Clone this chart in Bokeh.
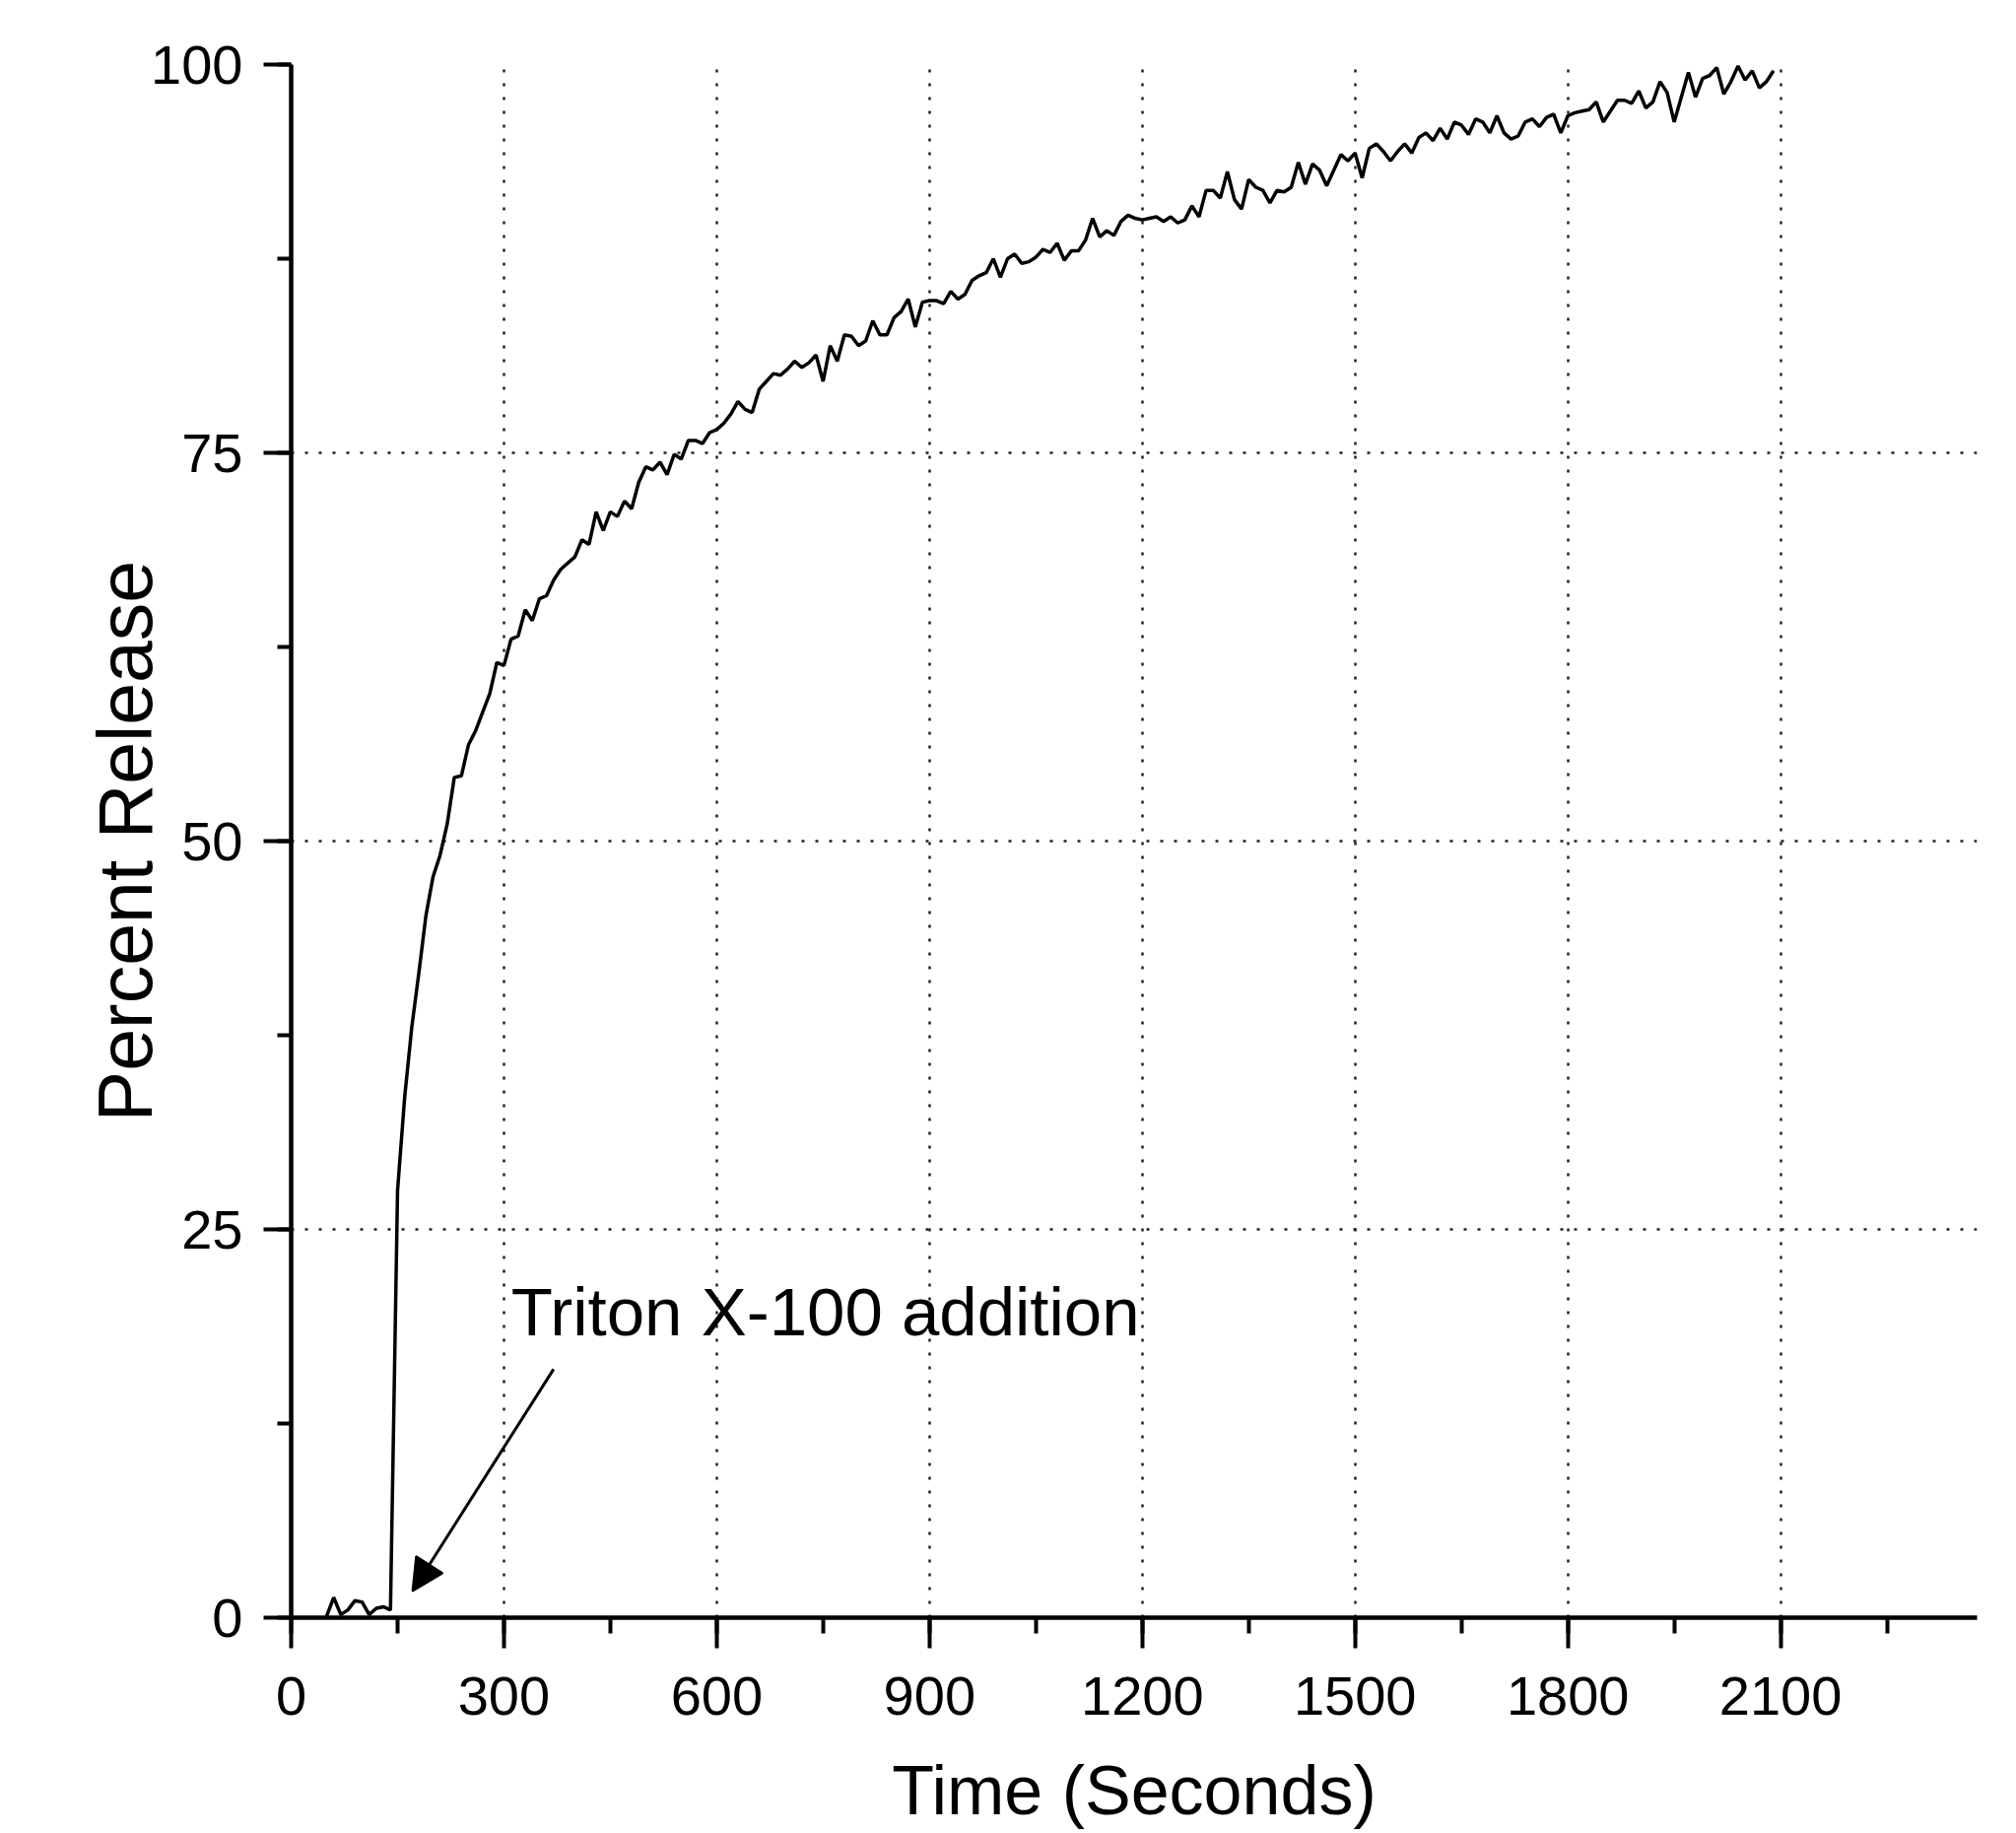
from bokeh.plotting import figure
from bokeh.models import (SingleIntervalTicker, FixedTicker, Arrow, NormalHead,
                          Label, Range1d)
from bokeh.embed import file_html
from bokeh.resources import INLINE

# ---- data ----
time_s = [
    50, 60, 70, 80, 90, 100, 110, 120, 130, 140,
    150, 160, 170, 180, 190, 200, 210, 220, 230, 240,
    250, 260, 270, 280, 290, 300, 310, 320, 330, 340,
    350, 360, 370, 380, 390, 400, 410, 420, 430, 440,
    450, 460, 470, 480, 490, 500, 510, 520, 530, 540,
    550, 560, 570, 580, 590, 600, 610, 620, 630, 640,
    650, 660, 670, 680, 690, 700, 710, 720, 730, 740,
    750, 760, 770, 780, 790, 800, 810, 820, 830, 840,
    850, 860, 870, 880, 890, 900, 910, 920, 930, 940,
    950, 960, 970, 980, 990, 1000, 1010, 1020, 1030, 1040,
    1050, 1060, 1070, 1080, 1090, 1100, 1110, 1120, 1130, 1140,
    1150, 1160, 1170, 1180, 1190, 1200, 1210, 1220, 1230, 1240,
    1250, 1260, 1270, 1280, 1290, 1300, 1310, 1320, 1330, 1340,
    1350, 1360, 1370, 1380, 1390, 1400, 1410, 1420, 1430, 1440,
    1450, 1460, 1470, 1480, 1490, 1500, 1510, 1520, 1530, 1540,
    1550, 1560, 1570, 1580, 1590, 1600, 1610, 1620, 1630, 1640,
    1650, 1660, 1670, 1680, 1690, 1700, 1710, 1720, 1730, 1740,
    1750, 1760, 1770, 1780, 1790, 1800, 1810, 1820, 1830, 1840,
    1850, 1860, 1870, 1880, 1890, 1900, 1910, 1920, 1930, 1940,
    1950, 1960, 1970, 1980, 1990, 2000, 2010, 2020, 2030, 2040,
    2050, 2060, 2070, 2080, 2090,
]
percent_release = [
    0.1, 1.3, 0.2, 0.5, 1.1, 1.0, 0.2, 0.6, 0.7, 0.5,
    27.5, 33.5, 38.0, 41.5, 45.2, 47.7, 49.1, 51.1, 54.1, 54.2,
    56.2, 57.1, 58.3, 59.5, 61.5, 61.3, 63.0, 63.2, 64.9, 64.2,
    65.6, 65.8, 66.8, 67.5, 67.9, 68.3, 69.4, 69.1, 71.2, 70.0,
    71.2, 70.9, 71.9, 71.4, 73.1, 74.1, 73.9, 74.4, 73.6, 74.9,
    74.6, 75.8, 75.8, 75.6, 76.3, 76.5, 76.9, 77.5, 78.3, 77.8,
    77.6, 79.1, 79.6, 80.1, 80.0, 80.4, 80.9, 80.5, 80.8, 81.3,
    79.6, 81.9, 80.9, 82.6, 82.5, 81.9, 82.2, 83.5, 82.6, 82.6,
    83.7, 84.1, 84.9, 83.1, 84.7, 84.8, 84.8, 84.6, 85.4, 84.9,
    85.2, 86.1, 86.4, 86.6, 87.5, 86.3, 87.5, 87.8, 87.2, 87.3,
    87.6, 88.1, 87.9, 88.5, 87.4, 88.0, 88.0, 88.7, 90.1, 88.9,
    89.3, 89.0, 89.9, 90.3, 90.1, 90.0, 90.1, 90.2, 89.9, 90.2,
    89.8, 90.0, 90.9, 90.2, 91.9, 91.9, 91.4, 93.1, 91.3, 90.7,
    92.6, 92.1, 91.9, 91.1, 91.9, 91.8, 92.1, 93.7, 92.3, 93.6,
    93.2, 92.2, 93.2, 94.2, 93.8, 94.3, 92.7, 94.6, 94.9, 94.4,
    93.8, 94.4, 94.9, 94.3, 95.3, 95.6, 95.1, 95.9, 95.2, 96.3,
    96.1, 95.5, 96.5, 96.3, 95.6, 96.7, 95.6, 95.2, 95.4, 96.3,
    96.5, 96.0, 96.6, 96.8, 95.6, 96.7, 96.9, 97.0, 97.1, 97.6,
    96.3, 97.0, 97.7, 97.7, 97.5, 98.3, 97.2, 97.6, 98.9, 98.2,
    96.3, 97.9, 99.5, 97.9, 99.1, 99.3, 99.8, 98.1, 98.9, 99.9,
    99.0, 99.6, 98.5, 98.9, 99.6,
]

x_grid_ticks = [300, 600, 900, 1200, 1500, 1800, 2100]
y_grid_ticks = [25, 50, 75]

annotation_text = "Triton X-100 addition"
annotation_text_pos = (310, 19.7)
arrow_start = (370, 16.0)
arrow_tip = (171, 1.7)

# ---- figure ----
FONT = "Liberation Sans, Arial, sans-serif"

p = figure(width=2040, height=1858, output_backend="svg", toolbar_location=None,
           x_range=Range1d(0, 2377), y_range=Range1d(0, 100),
           min_border_left=295, min_border_right=34,
           min_border_top=65, min_border_bottom=216)
p.outline_line_color = None
p.background_fill_color = "white"
p.border_fill_color = "white"

p.line(time_s, percent_release, line_color="black", line_width=3.5)

# axes
p.xaxis.ticker = SingleIntervalTicker(interval=300, num_minor_ticks=2)
p.yaxis.ticker = SingleIntervalTicker(interval=25, num_minor_ticks=2)
for ax in (p.xaxis[0], p.yaxis[0]):
    ax.axis_line_color = "black"
    ax.axis_line_width = 4.5
    ax.major_tick_line_color = "black"
    ax.major_tick_line_width = 4
    ax.minor_tick_line_color = "black"
    ax.minor_tick_line_width = 4
    ax.major_tick_in = 0
    ax.minor_tick_in = 0
    ax.major_label_text_font = FONT
    ax.major_label_text_font_size = "56px"
    ax.major_label_text_color = "black"
    ax.axis_label_text_font = FONT
    ax.axis_label_text_font_style = "normal"
    ax.axis_label_text_color = "black"

p.xaxis.axis_label_text_font_size = "70px"
p.yaxis.axis_label_text_font_size = "77px"
p.xaxis.major_tick_out = 31
p.xaxis.minor_tick_out = 16
p.yaxis.major_tick_out = 28
p.yaxis.minor_tick_out = 14
p.xaxis.major_label_standoff = 29
p.yaxis.major_label_standoff = 21
p.xaxis.axis_label = "Time (Seconds)"
p.yaxis.axis_label = "Percent Release"
p.xaxis.axis_label_standoff = 35
p.yaxis.axis_label_standoff = -20

# grid
p.xgrid.ticker = FixedTicker(ticks=x_grid_ticks)
p.ygrid.ticker = FixedTicker(ticks=y_grid_ticks)
for g in (p.xgrid[0], p.ygrid[0]):
    g.grid_line_color = "#222222"
    g.grid_line_width = 2.5
    g.grid_line_dash = "3 11"

# annotation
p.add_layout(Label(x=annotation_text_pos[0], y=annotation_text_pos[1],
                   text=annotation_text, text_font=FONT,
                   text_font_size="69px", text_color="black",
                   text_baseline="alphabetic", text_align="left"))
p.add_layout(Arrow(end=NormalHead(size=32, fill_color="black", line_color="black",
                                  line_width=2),
                   x_start=arrow_start[0], y_start=arrow_start[1],
                   x_end=arrow_tip[0], y_end=arrow_tip[1],
                   line_color="black", line_width=3))

open("out.html", "w").write(file_html(p, INLINE))
